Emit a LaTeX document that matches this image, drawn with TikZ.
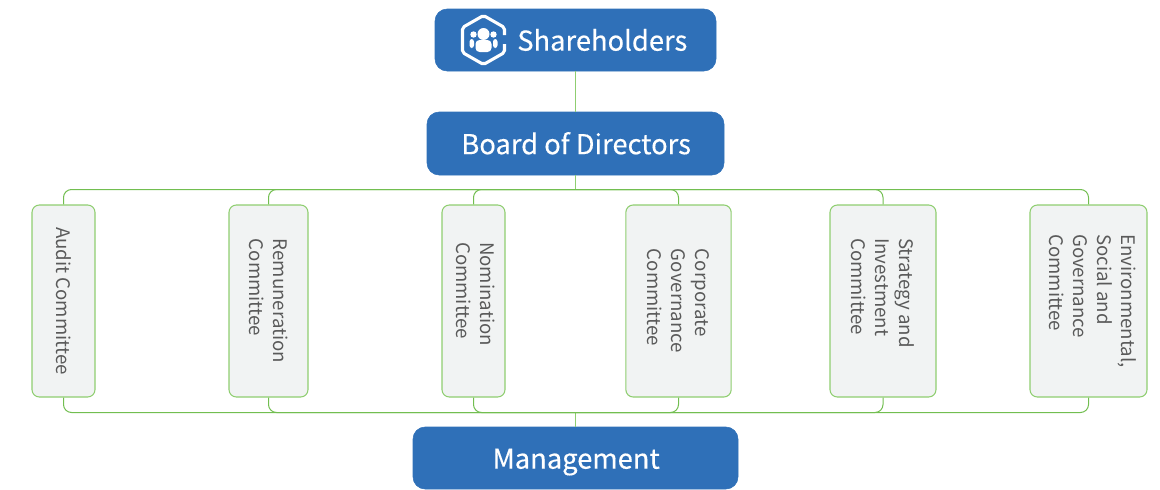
\documentclass[tikz,border=0pt]{standalone}
\usepackage{fontspec}
\setmainfont{Noto Sans CJK SC}
\newfontfamily\headfont[FakeBold=0.3]{Noto Sans CJK SC}
\definecolor{hdr}{HTML}{2F70B8}
\definecolor{wire}{HTML}{72BE50}
\definecolor{edge}{HTML}{8FCE70}
\definecolor{fillb}{HTML}{F1F3F3}
\definecolor{txt}{HTML}{5A5A5A}
\tikzset{
  x=0.75pt,y=-0.75pt,
  head/.style={fill=hdr,draw=hdr,rounded corners=9pt,inner sep=0pt,text=white,font=\headfont\fontsize{20.5pt}{24pt}\selectfont,line width=0.4pt,text height=16pt,text depth=0pt},
  cbox/.style={rotate=-90,fill=fillb,draw=edge,line width=0.8pt,rounded corners=5.5pt,inner sep=0pt,text=txt,align=left,minimum width=144pt,font=\fontsize{14pt}{18pt}\selectfont},
  wirel/.style={draw=wire,line width=0.75pt,rounded corners=6pt},
  wirek/.style={draw=edge,line width=1.2pt},
}
\begin{document}
\begin{tikzpicture}
\useasboundingbox (0,0) rectangle (1160,489);
\node[head,minimum width=210.75pt,minimum height=46.5pt] (sh) at (575.5,40) {};
\node[head,minimum width=222.75pt,minimum height=47.25pt] (bd) at (575.5,143.5) {\hspace*{1pt}Board of Directors};
\node[head,minimum width=243.75pt,minimum height=46.5pt] (mg) at (575.5,458) {\hspace*{1pt}Management};
\node[anchor=west,text=white,font=\headfont\fontsize{20.5pt}{24pt}\selectfont,inner sep=0pt,text height=16pt,text depth=0pt] (shl) at (517,40) {Shareholders};
\node[cbox,minimum height=47.25pt] (c1) at (63.5,301) {Audit Committee};
\node[cbox,minimum height=59.25pt] (c2) at (268.5,301) {Remuneration\\Committee};
\node[cbox,minimum height=47.25pt] (c3) at (473.5,301) {Nomination\hspace*{10.5pt}\\Committee\rule[-4pt]{0pt}{0pt}};
\node[cbox,minimum height=79pt] (c4) at (678.5,301) {Corporate\\Governance\\Committee};
\node[cbox,minimum height=79.5pt] (c5) at (883,301) {Strategy and\hspace*{12pt}\\Investment\\Committee};
\node[cbox,minimum height=87.75pt] (c6) at (1088.5,301) {Environmental,\\Social and\\Governance\\Committee\rule[-6pt]{0pt}{0pt}};
\coordinate (bust) at (575.5,189.5);
\coordinate (busb) at (575.5,412.5);
\draw[wirek] (sh.south) -- (bd.north);
\draw[wirek] (bd.south) -- (bust);
\draw[wirek] (mg.north) -- (busb);
\foreach \n in {c1,c2,c3,c4,c5,c6}{
  \draw[wirel] (bust) -- (\n.west |- bust) -- (\n.west);
  \draw[wirel] (busb) -- (\n.east |- busb) -- (\n.east);
}
% icon
\draw[white,line width=2.3pt,rounded corners=1.5pt] (504.5,35) -- (504.5,27.5) -- (483.5,15.5) -- (462.5,27.5) -- (462.5,52.5) -- (483.5,64.5) -- (504.5,52.5) -- (504.5,44);
\fill[white] (483.5,34) circle (6);
\fill[white] (473.5,34.5) circle (3.2);
\fill[white] (493.5,34.5) circle (3.2);
\fill[white,rounded corners=3pt] (475.5,40) rectangle (491.5,52);
\fill[white,rounded corners=2pt] (469.5,39) rectangle (474,48);
\fill[white,rounded corners=2pt] (493,39) rectangle (497.5,48);
\end{tikzpicture}
\end{document}
